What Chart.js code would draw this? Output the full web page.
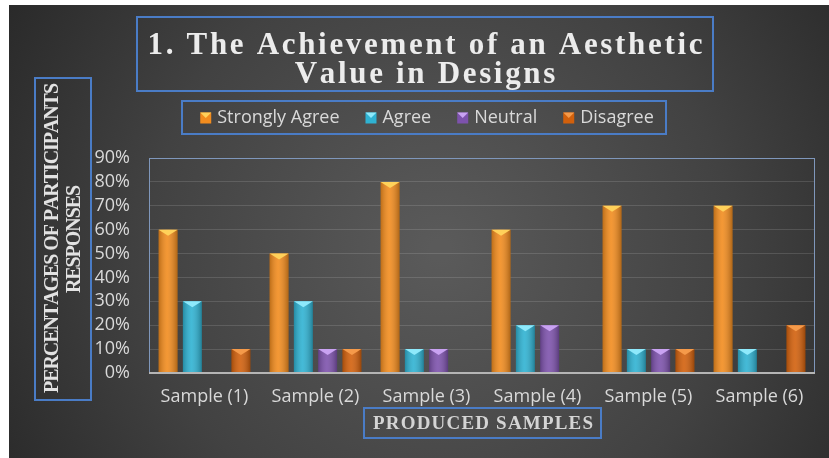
<!DOCTYPE html>
<html>
<head>
<meta charset="utf-8">
<script src="https://cdn.jsdelivr.net/npm/chart.js@4/dist/chart.umd.min.js"></script>
<style>
   html, body { margin: 0; padding: 0; background: #ffffff; }
   #wrap { position: relative; width: 829px; height: 458px; }
</style>
</head>
<body>
<div id="wrap"><canvas id="chart" width="829" height="458"></canvas></div>
<script>
// chart data
const categories = ['Sample (1)', 'Sample (2)', 'Sample (3)', 'Sample (4)', 'Sample (5)', 'Sample (6)'];
const seriesNames = ['Strongly Agree', 'Agree', 'Neutral', 'Disagree'];
const stronglyAgree = [60, 50, 80, 60, 70, 70];
const agree = [30, 30, 10, 20, 10, 10];
const neutral = [0, 10, 10, 20, 10, 0];
const disagree = [10, 10, 0, 0, 10, 20];
const yMax = 90;
const yStep = 10;

const titleLines = ['1. The Achievement of an Aesthetic', 'Value in Designs'];
const yTitleLines = ['PERCENTAGES OF PARTICIPANTS', 'RESPONSES'];
const xTitle = 'PRODUCED SAMPLES';

// bar colours: base, bevel highlight
const barColors = ['#f28c1e', '#2fb2d2', '#7d52ac', '#d2600c'];
const bevelColors = ['#ffd15a', '#8ee9fb', '#c9a2f2', '#f59a4a'];
const boxBlue = '#4a7cc6';

Chart.defaults.font.family = "'Open Sans', 'Liberation Sans', sans-serif";
Chart.defaults.font.size = 18;
Chart.defaults.color = '#d9d9d9';

function charWidths(ctx, text) {
   return Array.from(text).map(ch => ctx.measureText(ch).width);
}

function spacingFor(ctx, text, target) {
   const w = charWidths(ctx, text).reduce((a, b) => a + b, 0);
   return (target - w) / (text.length - 1);
}

// draw text centred on cx with extra letter spacing
function drawSpaced(ctx, text, cx, cy, spacing) {
   const widths = charWidths(ctx, text);
   const total = widths.reduce((a, b) => a + b, 0) + spacing * (text.length - 1);
   let x = cx - total / 2;
   ctx.textAlign = 'left';
   Array.from(text).forEach((ch, i) => {
      ctx.fillText(ch, x, cy);
      x += widths[i] + spacing;
   });
}

function strokeBox(ctx, x1, y1, x2, y2) {
   ctx.save();
   ctx.strokeStyle = boxBlue;
   ctx.lineWidth = 2;
   ctx.strokeRect(x1, y1, x2 - x1, y2 - y1);
   ctx.restore();
}

const backgroundPlugin = {
   id: 'bg',
   beforeDraw(chart) {
      const ctx = chart.ctx;
      ctx.save();
      const g = ctx.createRadialGradient(440, 250, 10, 440, 250, 520);
      g.addColorStop(0, '#5a5a5a');
      g.addColorStop(0.55, '#424242');
      g.addColorStop(1, '#272727');
      ctx.fillStyle = g;
      ctx.fillRect(9, 5, 820, 453);
      ctx.restore();
   }
};

const barBevelPlugin = {
   id: 'bevel',
   afterDatasetsDraw(chart) {
      const ctx = chart.ctx;
      chart.data.datasets.forEach((ds, di) => {
         const meta = chart.getDatasetMeta(di);
         meta.data.forEach((bar, i) => {
            if (!ds.data[i]) return;
            const w = bar.width;
            const left = bar.x - w / 2;
            const top = bar.y;
            const h = bar.base - bar.y;
            ctx.save();
            const g = ctx.createLinearGradient(left, 0, left + w, 0);
            g.addColorStop(0, 'rgba(0,0,0,0.22)');
            g.addColorStop(0.45, 'rgba(255,255,255,0.10)');
            g.addColorStop(1, 'rgba(0,0,0,0.28)');
            ctx.fillStyle = g;
            ctx.fillRect(left, top, w, h);
            ctx.beginPath();
            ctx.moveTo(left, top);
            ctx.lineTo(left + w, top);
            ctx.lineTo(bar.x, top + 6);
            ctx.closePath();
            ctx.fillStyle = bevelColors[di];
            ctx.fill();
            ctx.restore();
         });
      });
   }
};

const decorPlugin = {
   id: 'decor',
   afterDraw(chart) {
      const ctx = chart.ctx;
      const area = chart.chartArea;

      // plot area frame
      ctx.save();
      ctx.strokeStyle = '#7f97bb';
      ctx.lineWidth = 1;
      ctx.strokeRect(area.left + 0.5, area.top + 0.5, area.right - area.left - 1, area.bottom - area.top);
      ctx.strokeStyle = '#b5b5b5';
      ctx.lineWidth = 2;
      ctx.beginPath();
      ctx.moveTo(area.left, area.bottom);
      ctx.lineTo(area.right, area.bottom);
      ctx.stroke();
      ctx.restore();

      // title
      ctx.save();
      ctx.fillStyle = '#ececec';
      ctx.textBaseline = 'alphabetic';
      ctx.font = "bold 31px 'Liberation Serif', serif";
      const sp = spacingFor(ctx, titleLines[0], 555);
      drawSpaced(ctx, titleLines[0], 425, 54, sp);
      drawSpaced(ctx, titleLines[1], 425, 83, sp);
      ctx.restore();
      strokeBox(ctx, 137, 17, 713, 91);

      // legend
      ctx.save();
      ctx.font = "18px 'Open Sans', sans-serif";
      ctx.textBaseline = 'middle';
      const marker = 11, markerGap = 6, itemGap = 26;
      const widths = seriesNames.map(n => ctx.measureText(n).width);
      const total = widths.reduce((a, b) => a + b, 0) + seriesNames.length * (marker + markerGap) + itemGap * (seriesNames.length - 1);
      let x = 427 - total / 2;
      const ly = 118;
      seriesNames.forEach((name, i) => {
         ctx.fillStyle = barColors[i];
         ctx.fillRect(x, ly - marker / 2, marker, marker);
         ctx.beginPath();
         ctx.moveTo(x, ly - marker / 2);
         ctx.lineTo(x + marker, ly - marker / 2);
         ctx.lineTo(x + marker / 2, ly);
         ctx.closePath();
         ctx.fillStyle = bevelColors[i];
         ctx.fill();
         x += marker + markerGap;
         ctx.fillStyle = '#d9d9d9';
         ctx.textAlign = 'left';
         ctx.fillText(name, x, ly);
         x += widths[i] + itemGap;
      });
      ctx.restore();
      strokeBox(ctx, 182, 101, 666, 134);

      // y axis title
      ctx.save();
      ctx.fillStyle = '#e2e2e2';
      ctx.textBaseline = 'middle';
      ctx.font = "bold 20px 'Liberation Serif', serif";
      const ysp = spacingFor(ctx, yTitleLines[0], 310);
      ctx.translate(53, 238);
      ctx.rotate(-Math.PI / 2);
      drawSpaced(ctx, yTitleLines[0], 0, 0, ysp);
      ctx.restore();
      ctx.save();
      ctx.fillStyle = '#e2e2e2';
      ctx.textBaseline = 'middle';
      ctx.font = "bold 20px 'Liberation Serif', serif";
      ctx.translate(75, 239);
      ctx.rotate(-Math.PI / 2);
      drawSpaced(ctx, yTitleLines[1], 0, 0, ysp);
      ctx.restore();
      strokeBox(ctx, 35, 78, 91, 400);

      // x axis title
      ctx.save();
      ctx.fillStyle = '#d4d4d4';
      ctx.textBaseline = 'middle';
      ctx.font = "bold 19px 'Liberation Serif', serif";
      const xsp = spacingFor(ctx, xTitle, 220);
      drawSpaced(ctx, xTitle, 483, 424, xsp);
      ctx.restore();
      strokeBox(ctx, 364, 408, 601, 438);
   }
};

const seriesData = [stronglyAgree, agree, neutral, disagree];

new Chart(document.getElementById('chart'), {
   type: 'bar',
   data: {
      labels: categories,
      datasets: seriesNames.map((name, i) => ({
         label: name,
         data: seriesData[i],
         backgroundColor: barColors[i],
         borderWidth: 0,
         categoryPercentage: 0.875,
         barPercentage: 0.78
      }))
   },
   options: {
      responsive: false,
      animation: false,
      layout: {
         padding: { left: 0, top: 158, right: 14, bottom: 0 }
      },
      plugins: {
         legend: { display: false },
         title: { display: false },
         tooltip: { enabled: false }
      },
      scales: {
         x: {
            grid: { display: false, drawTicks: false },
            border: { display: false },
            ticks: { padding: 13, color: '#d9d9d9' },
            afterFit: function (scale) { scale.height = 85; }
         },
         y: {
            min: 0,
            max: yMax,
            ticks: {
               stepSize: yStep,
               autoSkip: false,
               padding: 19,
               color: '#d9d9d9',
               callback: function (value) { return value + '%'; }
            },
            grid: { color: 'rgba(255,255,255,0.13)', drawTicks: false },
            border: { display: false },
            afterFit: function (scale) { scale.width = 149; }
         }
      }
   },
   plugins: [backgroundPlugin, barBevelPlugin, decorPlugin]
});
</script>
</body>
</html>
